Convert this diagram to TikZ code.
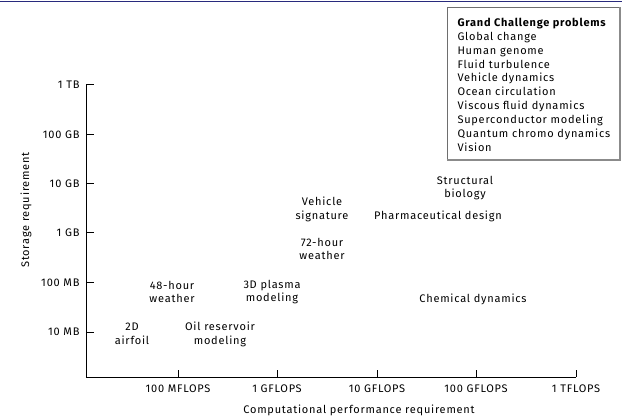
\documentclass[tikz,border=0pt]{standalone}
\usepackage{fontspec}
\setmainfont[LetterSpace=7]{Fira Sans}
\definecolor{rulenavy}{RGB}{40,42,125}
\definecolor{boxgray}{RGB}{110,110,110}

\begin{document}
\begin{tikzpicture}[x=1pt,y=-1pt,every path/.style={line width=1pt},
    lbl/.style={align=center,inner sep=0pt,font=\fontsize{11}{13.9}\selectfont},
    ticklbl/.style={inner sep=0pt,font=\fontsize{11}{13.9}\selectfont}]
  \useasboundingbox (0,0) rectangle (622,417);
  \draw[rulenavy,line width=1.5pt] (0,1.5) -- (622,1.5);

  % axes
  \coordinate (top) at (86,85);
  \coordinate (O) at (86,377);
  \coordinate (right) at (576,377);
  \draw (top) -- (O) -- (right);
  \foreach \x/\lab [count=\i] in {178/100 MFLOPS,277/1 GFLOPS,377/10 GFLOPS,476/100 GFLOPS,576/1 TFLOPS}{
    \draw (\x,377) -- (\x,370);
    \node[ticklbl] (xl\i) at (\x,389) {\lab};
  }
  \foreach \y/\lab [count=\i] in {85/1 TB,135/100 GB,184/10 GB,233/1 GB,283/100 MB,332/10 MB}{
    \draw (86,\y) -- (94,\y);
    \node[ticklbl,anchor=east] (yl\i) at (80,\y) {\lab};
  }
  \node[lbl] (xtitle) at (359,410) {Computational performance requirement};
  \node[lbl,rotate=90] (ytitle) at (26,210) {Storage requirement};

  % problems
  \node[lbl] (airfoil) at (132,334) {2D\\airfoil};
  \node[lbl] (wea48) at (172,292) {48-hour\\weather};
  \node[lbl] (oil) at (220,334) {Oil reservoir\\modeling};
  \node[lbl] (plasma) at (272,292) {3D plasma\\modeling};
  \node[lbl] (vehicle) at (322,209) {Vehicle\\signature};
  \node[lbl] (wea72) at (322,249) {72-hour\\weather};
  \node[lbl] (struct) at (465,188) {Structural\\biology};
  \node[lbl] (pharma) at (438,216) {Pharmaceutical design};
  \node[lbl] (chem) at (473,299) {Chemical dynamics};

  % legend
  \node[lbl,align=left,anchor=north west] (gcp) at (457,17.5)
    {\textbf{Grand Challenge problems}\\Global change\\Human genome\\Fluid turbulence\\
     Vehicle dynamics\\Ocean circulation\\Viscous fluid dynamics\\
     Superconductor modeling\\Quantum chromo dynamics\\Vision};
  \draw[boxgray,line width=0.8pt] (447,7) rectangle (620,160);
  \draw[boxgray!80,line width=1.6pt] (447,160) -- (620,160) -- (620,7);
\end{tikzpicture}
\end{document}
